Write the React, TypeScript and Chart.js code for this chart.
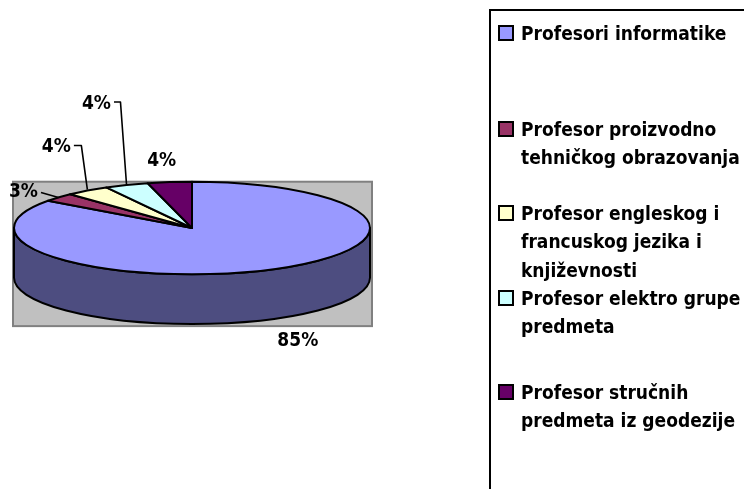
import React, { useEffect, useRef } from "react";
import { Chart, registerables } from "chart.js";

Chart.register(...registerables);

// Staff structure by profession
const categories = [
  "Profesori informatike",
  "Profesor proizvodno tehničkog obrazovanja",
  "Profesor engleskog i francuskog jezika i književnosti",
  "Profesor elektro grupe predmeta",
  "Profesor stručnih predmeta iz geodezije",
];
const shares = [85, 3, 4, 4, 4];
const valueLabels = ["85%", "3%", "4%", "4%", "4%"];
const topColors = ["#9999FF", "#993366", "#FFFFCC", "#CCFFFF", "#660066"];
const sideColors = ["#4D4D80", "#4D1A33", "#808066", "#668080", "#330033"];

// Projection of the pie disc
const TILT = 0.26; // vertical squash of the top face
const DEPTH = 0.28; // wall height relative to radius

const FONT = "'DejaVu Sans Condensed', 'DejaVu Sans', sans-serif";

// Label placement relative to the slice's mid-point on the rim
// [dx, dy, leader]
const labelPlacement: [number, number, string][] = [
  [25, 72, "none"],
  [-35, -5, "straight"],
  [-31, -43, "elbow"],
  [-30, -81, "elbow"],
  [-8, -21, "none"],
];

// Legend entry tops (first-line centre), px
const legendRows = [33, 129, 213, 298, 392];

const pie3d = {
  id: "pie3d",
  beforeDatasetsDraw(chart: any) {
    const ctx: CanvasRenderingContext2D = chart.ctx;
    const arcs = chart.getDatasetMeta(0).data as any[];
    if (!arcs.length) return false;
    const p0 = arcs[0].getProps(["x", "y", "outerRadius"], true);
    const cx = p0.x;
    const cy = p0.y;
    const rx = p0.outerRadius;
    const ry = rx * TILT;
    const depth = rx * DEPTH;

    ctx.save();
    // plot area
    const L = cx - rx - 1;
    const T = cy - ry;
    const R = cx + rx + 2;
    const B = cy + ry + depth + 2;
    ctx.fillStyle = "#C0C0C0";
    ctx.fillRect(L, T, R - L, B - T);
    ctx.strokeStyle = "#808080";
    ctx.lineWidth = 2;
    ctx.strokeRect(L, T, R - L, B - T);

    ctx.lineJoin = "round";
    ctx.strokeStyle = "#000";
    ctx.lineWidth = 2;

    // outer walls, front half only
    arcs.forEach((arc, i) => {
      const { startAngle, endAngle } = arc.getProps(["startAngle", "endAngle"], true);
      for (const k of [-1, 0, 1]) {
        const a = Math.max(startAngle + 2 * Math.PI * k, 0);
        const b = Math.min(endAngle + 2 * Math.PI * k, Math.PI);
        if (b <= a) continue;
        ctx.beginPath();
        ctx.ellipse(cx, cy, rx, ry, 0, a, b);
        ctx.ellipse(cx, cy + depth, rx, ry, 0, b, a, true);
        ctx.closePath();
        ctx.fillStyle = sideColors[i];
        ctx.fill();
        ctx.stroke();
      }
    });

    // top faces
    arcs.forEach((arc, i) => {
      const { startAngle, endAngle } = arc.getProps(["startAngle", "endAngle"], true);
      ctx.beginPath();
      ctx.moveTo(cx, cy);
      ctx.ellipse(cx, cy, rx, ry, 0, startAngle, endAngle);
      ctx.closePath();
      ctx.fillStyle = topColors[i];
      ctx.fill();
      ctx.stroke();
    });

    // value labels
    ctx.font = `bold 19px ${FONT}`;
    ctx.fillStyle = "#000";
    ctx.textAlign = "center";
    ctx.textBaseline = "middle";
    ctx.lineWidth = 1.6;
    arcs.forEach((arc, i) => {
      const { startAngle, endAngle } = arc.getProps(["startAngle", "endAngle"], true);
      const mid = (startAngle + endAngle) / 2;
      const px = cx + rx * Math.cos(mid);
      const py = cy + ry * Math.sin(mid);
      const [dx, dy, leader] = labelPlacement[i];
      const lx = px + dx;
      const ly = py + dy;
      const text = valueLabels[i];
      ctx.fillText(text, lx, ly);
      const w = ctx.measureText(text).width;
      const right = lx + w / 2 + 3;
      if (leader === "straight") {
        ctx.beginPath();
        ctx.moveTo(right, ly);
        ctx.lineTo(px, py);
        ctx.stroke();
      } else if (leader === "elbow") {
        ctx.beginPath();
        ctx.moveTo(right, ly - 2);
        ctx.lineTo(px - 6, ly - 2);
        ctx.lineTo(px, py - 1);
        ctx.stroke();
      }
    });
    ctx.restore();
    return false;
  },
};

export default function App() {
  const canvasRef = useRef<HTMLCanvasElement | null>(null);

  useEffect(() => {
    if (!canvasRef.current) return;
    const chart = new Chart(canvasRef.current, {
      type: "pie",
      data: {
        labels: categories,
        datasets: [
          {
            data: shares,
            backgroundColor: topColors,
            borderWidth: 0,
          },
        ],
      },
      options: {
        responsive: false,
        animation: false,
        events: [],
        layout: { padding: { left: 14, right: 374, top: 50, bottom: 83 } },
        plugins: {
          legend: { display: false },
          tooltip: { enabled: false },
        },
      },
      plugins: [pie3d],
    });
    return () => chart.destroy();
  }, []);

  return (
    <div
      style={{
        position: "fixed",
        left: 0,
        top: 0,
        width: 744,
        height: 489,
        background: "#fff",
        overflow: "hidden",
      }}
    >
      <canvas ref={canvasRef} width={744} height={489} style={{ position: "absolute", left: 0, top: 0 }} />
      <div
        style={{
          position: "absolute",
          left: 489,
          top: 9,
          width: 300,
          height: 520,
          border: "2px solid #000",
          boxSizing: "border-box",
        }}
      />
      {categories.map((name, i) => (
        <div key={name}>
          <div
            style={{
              position: "absolute",
              left: 498,
              top: legendRows[i] - 8,
              width: 12,
              height: 12,
              border: "2px solid #000",
              background: topColors[i],
            }}
          />
          <div
            style={{
              position: "absolute",
              left: 521,
              top: legendRows[i] - 14.25,
              width: 228,
              font: `bold 19px ${FONT}`,
              lineHeight: "28.5px",
              color: "#000",
              whiteSpace: "normal",
            }}
          >
            {name}
          </div>
        </div>
      ))}
    </div>
  );
}
